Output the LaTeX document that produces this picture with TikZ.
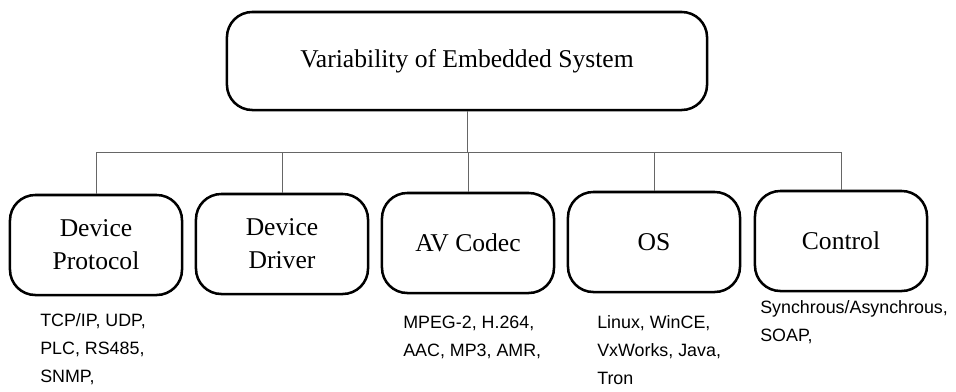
\documentclass[tikz,border=0pt]{standalone}
\usepackage{fontspec}
\setmainfont{Liberation Serif}
\newfontfamily\labelsans{Liberation Sans}
\tikzset{
  varbox/.style={draw, line width=1.8pt, rounded corners=18pt, align=center,
    minimum width=4.3cm, minimum height=2.5cm, inner sep=2pt,
    font=\fontsize{18.2}{23.4}\selectfont},
  rootbox/.style={varbox, minimum width=12cm, minimum height=2.45cm},
  examples/.style={anchor=north west, inner sep=0pt, align=left,
    font=\labelsans\fontsize{12.7}{19.9}\selectfont},
  link/.style={draw=black!60, line width=0.6pt}
}
\begin{document}
\begin{tikzpicture}[x=0.025cm, y=-0.025cm, line join=round]
  \useasboundingbox (0,0) rectangle (956,391);
  % root
  \node[rootbox] (root) at (467,61) {Variability of Embedded System};
  % variability categories
  \node[varbox] (proto)  at (96,245)  {Device\\Protocol};
  \node[varbox] (driver) at (282,244) {Device\\Driver};
  \node[varbox] (codec)  at (468,243) {AV Codec};
  \node[varbox] (os)     at (654,242) {OS};
  \node[varbox] (ctrl)   at (841,241) {Control};
  \coordinate (bus) at (468,152);
  % tree connectors
  \draw[link] (root.south) -- (root.south |- bus);
  \draw[link] (proto.north |- bus) -- (ctrl.north |- bus);
  \foreach \n in {proto,driver,codec,os,ctrl}
    \draw[link] (\n.north) -- (\n.north |- bus);
  % examples under the boxes
  \node[examples] (protoex) at (40,313)  {TCP/IP, UDP,\\PLC, RS485,\\SNMP,};
  \node[examples] (codecex) at (403,316) {MPEG-2, H.264,\\AAC, MP3, AMR,};
  \node[examples] (osex)    at (597,315) {Linux, WinCE,\\VxWorks, Java,\\Tron};
  \node[examples] (ctrlex)  at (760,300) {Synchrous/Asynchrous,\\SOAP,};
\end{tikzpicture}
\end{document}
